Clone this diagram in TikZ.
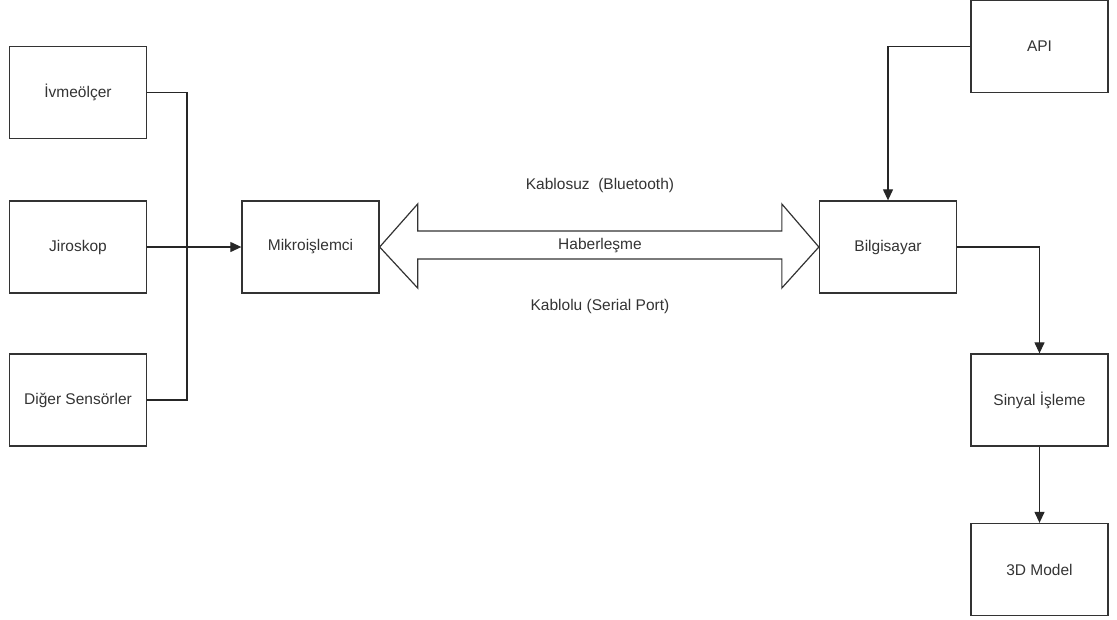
\documentclass[tikz,border=0pt]{standalone}
\usepackage{fontspec}
\setmainfont{Liberation Sans}
\usetikzlibrary{arrows.meta,calc}

\begin{document}
\begin{tikzpicture}[x=1pt, y=-1pt, font=\fontsize{15.5}{18}\selectfont,
    block/.style={draw=black!80, line width=1.3pt, minimum width=137pt, minimum height=92pt, text=black!80},
    lbl/.style={text=black!80},
    wire/.style={black!85, line width=1.2pt},
    >={Triangle[length=11pt,width=10pt]}]
    \useasboundingbox (0,0) rectangle (1117,619);

    \node (ivme) [block] at (78, 92.5) {İvmeölçer};
    \node (jiro) [block] at (78, 247) {Jiroskop};
    \node (diger) [block] at (78, 400) {Diğer Sensörler};
    \coordinate (bus) at (187, 247);

    \node (mikro) [block] at (310.5, 247) {Mikroişlemci};
    \node (bilg) [block] at (888, 247) {Bilgisayar};
    \node (api) [block] at (1039.5, 46.5) {API};
    \node (sinyal) [block] at (1039.5, 400) {Sinyal İşleme};
    \node (model) [block] at (1039.5, 569.5) {3D Model};

    \node (kablosuz) [lbl] at (600, 185) {Kablosuz\ \ (Bluetooth)};
    \node (haber) [lbl] at (600, 246) {Haberleşme};
    \node (kablolu) [lbl] at (600, 306) {Kablolu (Serial Port)};

    \draw[wire] (ivme) -| (bus);
    \draw[wire] (diger) -| (bus);
    \draw[->, wire] (jiro) -- (mikro);

    % double arrow between the two ends
    \draw[black!80, line width=1.2pt, line join=miter]
        (mikro.east) -- ($(mikro.east)+(38,-43)$) -- ($(mikro.east)+(38,-16)$)
        -- ($(bilg.west)+(-37,-16)$) -- ($(bilg.west)+(-37,-43)$) -- (bilg.west)
        -- ($(bilg.west)+(-37,41)$) -- ($(bilg.west)+(-37,12)$)
        -- ($(mikro.east)+(38,12)$) -- ($(mikro.east)+(38,41)$) -- cycle;

    \draw[->, wire] (api) -| (bilg);
    \draw[->, wire] (bilg) -| (sinyal);
    \draw[->, wire] (sinyal) -- (model);
\end{tikzpicture}
\end{document}
